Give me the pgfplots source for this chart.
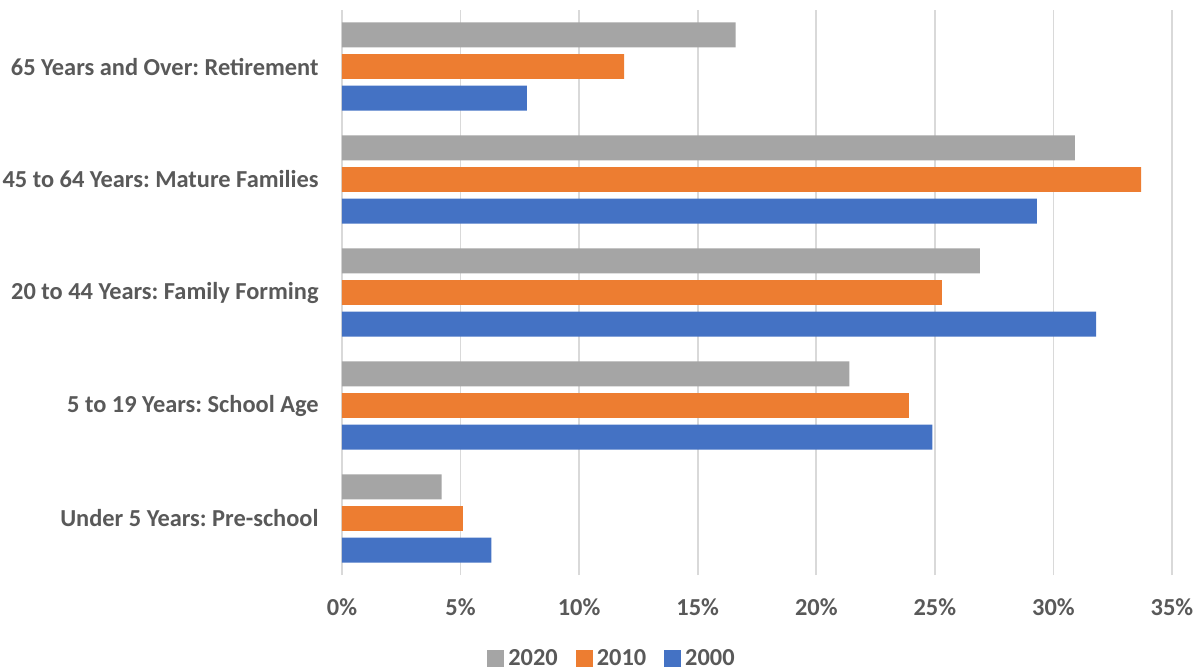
\documentclass[border=0pt]{standalone}
\usepackage{pgfplots}
\pgfplotsset{compat=1.18}
\usepackage{fontspec}
\setmainfont{Carlito}
\frenchspacing
\definecolor{c2020}{HTML}{A5A5A5}
\definecolor{c2010}{HTML}{ED7D31}
\definecolor{c2000}{HTML}{4472C4}
\definecolor{gridc}{HTML}{D9D9D9}
\definecolor{txt}{HTML}{595959}
\begin{document}
\begin{tikzpicture}
\path[use as bounding box] (-171pt,-47.5pt) rectangle (428.5pt,287.5pt);
\begin{axis}[
  at={(0pt,0pt)}, anchor=south west,
  scale only axis, width=415pt, height=282.5pt,
  xmin=0, xmax=35, ymin=-0.5, ymax=4.5,
  xtick={0,5,...,35},
  xticklabels={0\%,5\%,10\%,15\%,20\%,25\%,30\%,35\%},
  ytick={0,1,2,3,4},
  yticklabels={Under 5 Years: Pre-school, 5 to 19 Years: School Age, 20 to 44 Years: Family Forming, 45 to 64 Years: Mature Families, 65 Years and Over: Retirement},
  axis line style={draw=none},
  tick style={draw=none},
  xmajorgrids,
  major grid style={gridc, line width=0.8pt},
  ticklabel style={font=\fontsize{12.2}{14.6}\selectfont\bfseries, text=txt},
  xticklabel style={anchor=center, inner sep=0pt, yshift=-16pt},
  yticklabel style={anchor=east, inner sep=0pt, xshift=-11.5pt},
  legend style={at={(0.3265,-0.148)}, anchor=center, draw=none, fill=none,
    font=\fontsize{12.2}{14.6}\selectfont\bfseries, text=txt,
    legend columns=3,
    /tikz/every even column/.append style={column sep=7pt},
    nodes={inner xsep=2pt, inner ysep=0pt}},
  legend image code/.code={\fill[#1,draw=none] (0pt,-4.25pt) rectangle (8.5pt,4.25pt);},
]
\addplot[xbar, bar width=0.221, bar shift=0.279, fill=c2020, draw=none] coordinates {
  (4.2,0) (21.4,1) (26.9,2) (30.9,3) (16.6,4)};
\addplot[xbar, bar width=0.221, bar shift=0, fill=c2010, draw=none] coordinates {
  (5.1,0) (23.9,1) (25.3,2) (33.7,3) (11.9,4)};
\addplot[xbar, bar width=0.221, bar shift=-0.279, fill=c2000, draw=none] coordinates {
  (6.3,0) (24.9,1) (31.8,2) (29.3,3) (7.8,4)};
\legend{2020,2010,2000}
\end{axis}
\end{tikzpicture}
\end{document}
